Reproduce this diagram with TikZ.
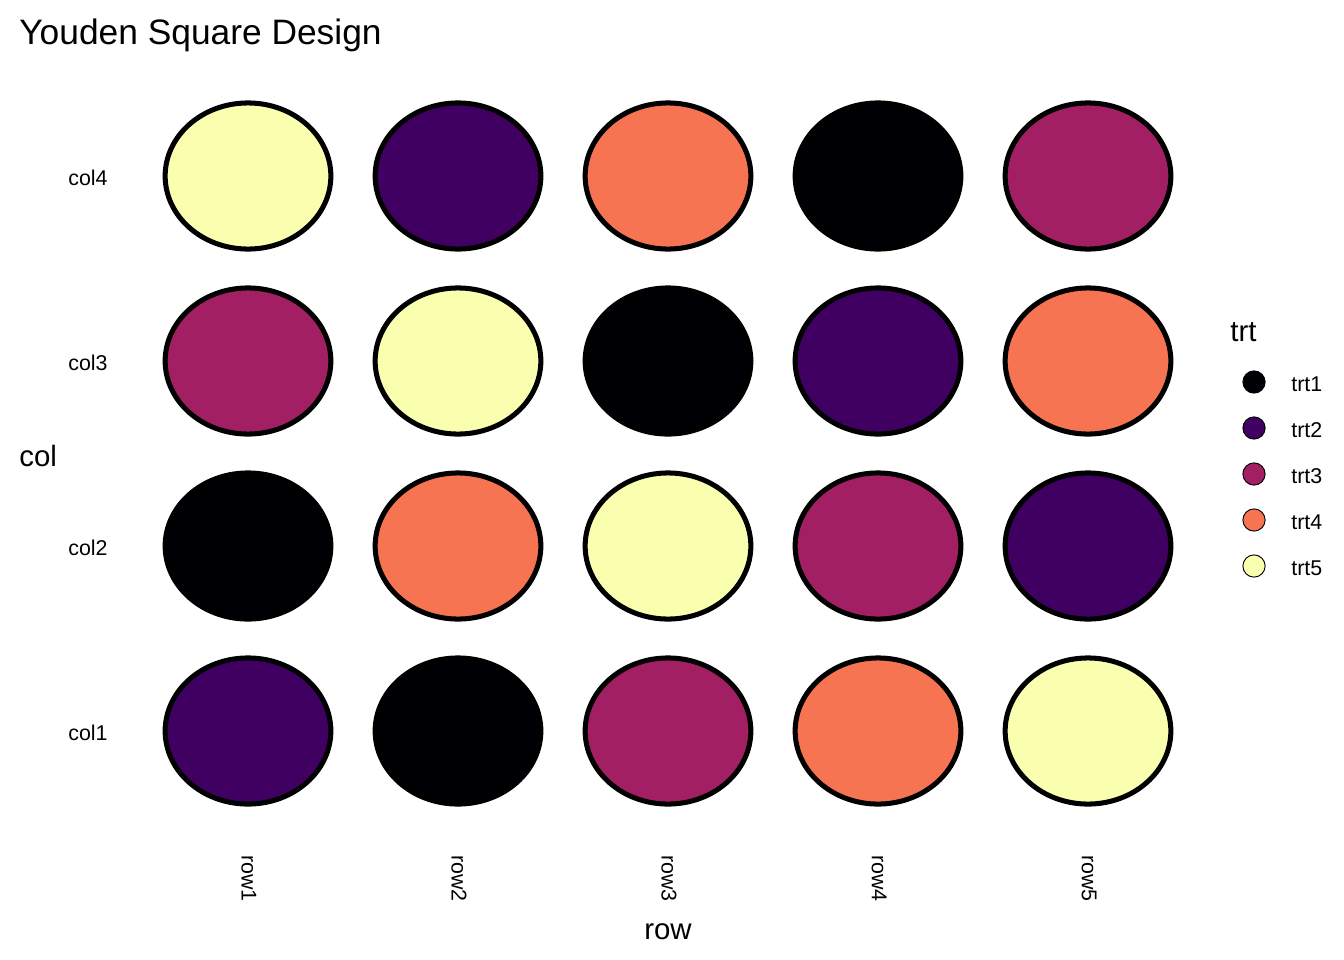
\documentclass[tikz,border=0pt]{standalone}
\usepackage{fontspec}
\setmainfont{Liberation Sans}
\usetikzlibrary{shapes.geometric, positioning}
\definecolor{TrtOne}{HTML}{000004}
\definecolor{TrtTwo}{HTML}{400062}
\definecolor{TrtThree}{HTML}{A31F63}
\definecolor{TrtFour}{HTML}{F67451}
\definecolor{TrtFive}{HTML}{FAFFAF}
\begin{document}
\begin{tikzpicture}[
    x=0.018898cm, y=-0.018898cm,
    cell/.style={
        ellipse,
        draw=black,
        line width=2.7pt,
        fill=#1,
        minimum width=3.13cm,
        minimum height=2.76cm,
        inner sep=0pt
    },
    key/.style={
        circle,
        draw=black,
        line width=0.5pt,
        fill=#1,
        minimum size=0.42cm,
        inner sep=0pt
    },
    tick/.style={font=\fontsize{11.5}{13}\selectfont, inner sep=0pt},
    every node/.style={font=\fontsize{15.8}{18}\selectfont}
]
\useasboundingbox (0,0) rectangle (1344,960);

% TITLE
\node[anchor=base west, inner sep=0pt, font=\fontsize{19}{22}\selectfont] (title) at (19,44)
{Youden Square Design};

% COL4
\node[cell=TrtFive]  (c4r1) at (248,176) {};
\node[cell=TrtTwo]   (c4r2) at (458,176) {};
\node[cell=TrtFour]  (c4r3) at (668,176) {};
\node[cell=TrtOne]   (c4r4) at (878,176) {};
\node[cell=TrtThree] (c4r5) at (1088,176) {};

% COL3
\node[cell=TrtThree] (c3r1) at (248,361) {};
\node[cell=TrtFive]  (c3r2) at (458,361) {};
\node[cell=TrtOne]   (c3r3) at (668,361) {};
\node[cell=TrtTwo]   (c3r4) at (878,361) {};
\node[cell=TrtFour]  (c3r5) at (1088,361) {};

% COL2
\node[cell=TrtOne]   (c2r1) at (248,546) {};
\node[cell=TrtFour]  (c2r2) at (458,546) {};
\node[cell=TrtFive]  (c2r3) at (668,546) {};
\node[cell=TrtThree] (c2r4) at (878,546) {};
\node[cell=TrtTwo]   (c2r5) at (1088,546) {};

% COL1
\node[cell=TrtTwo]   (c1r1) at (248,731) {};
\node[cell=TrtOne]   (c1r2) at (458,731) {};
\node[cell=TrtThree] (c1r3) at (668,731) {};
\node[cell=TrtFour]  (c1r4) at (878,731) {};
\node[cell=TrtFive]  (c1r5) at (1088,731) {};

% Y AXIS
\node[tick, anchor=east] (ycol4) at (108,178) {col4};
\node[tick, anchor=east] (ycol3) at (108,363) {col3};
\node[tick, anchor=east] (ycol2) at (108,548) {col2};
\node[tick, anchor=east] (ycol1) at (108,733) {col1};
\node[anchor=west, inner sep=0pt] (ytitle) at (19,456) {col};

% X AXIS
\node[tick, rotate=-90, anchor=west] (xrow1) at (249,855) {row1};
\node[tick, rotate=-90, anchor=west] (xrow2) at (459,855) {row2};
\node[tick, rotate=-90, anchor=west] (xrow3) at (669,855) {row3};
\node[tick, rotate=-90, anchor=west] (xrow4) at (879,855) {row4};
\node[tick, rotate=-90, anchor=west] (xrow5) at (1089,855) {row5};
\node[inner sep=0pt] (xtitle) at (668,932) {row};

% LEGEND
\node[anchor=west, inner sep=0pt] (legtitle) at (1230,332) {trt};
\node[key=TrtOne]   (k1) at (1254,382) {};
\node[key=TrtTwo]   (k2) at (1254,428) {};
\node[key=TrtThree] (k3) at (1254,474) {};
\node[key=TrtFour]  (k4) at (1254,520) {};
\node[key=TrtFive]  (k5) at (1254,566) {};
\node[tick, anchor=west] at (1291,384) {trt1};
\node[tick, anchor=west] at (1291,430) {trt2};
\node[tick, anchor=west] at (1291,476) {trt3};
\node[tick, anchor=west] at (1291,522) {trt4};
\node[tick, anchor=west] at (1291,568) {trt5};

\end{tikzpicture}
\end{document}
